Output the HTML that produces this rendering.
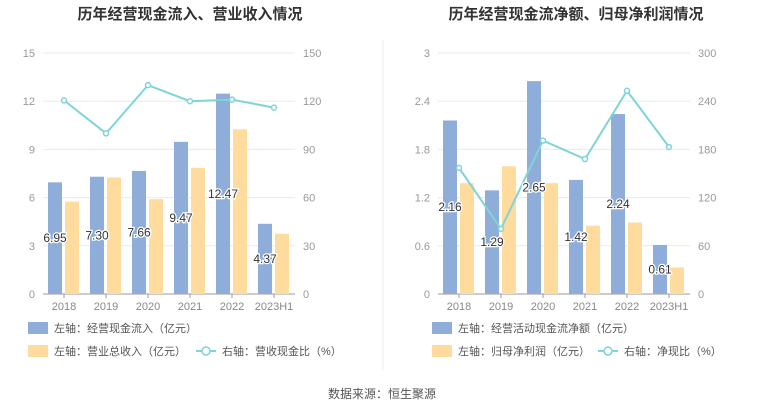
<!DOCTYPE html>
<html><head><meta charset="utf-8"><style>
body{margin:0;background:#fff;font-family:"Liberation Sans","Noto Sans CJK SC",sans-serif;}
svg text{font-family:"Liberation Sans","Noto Sans CJK SC",sans-serif;}
</style></head><body>
<svg width="765" height="413" xmlns="http://www.w3.org/2000/svg">
<rect width="765" height="413" fill="#fff"/>
<line x1="383" y1="40" x2="383" y2="370" stroke="#eee"/>
<text x="190" y="19" text-anchor="middle" font-size="15" font-weight="bold" fill="#333">历年经营现金流入、营业收入情况</text>
<text x="576" y="19" text-anchor="middle" font-size="15" font-weight="bold" fill="#333">历年经营现金流净额、归母净利润情况</text>
<g id="c1"></g><g id="c2"></g>
<g font-size="11" fill="#555">
<rect x="28" y="322" width="20" height="12" fill="#8eadd9"/>
<text x="54" y="332">左轴：经营现金流入（亿元）</text>
<rect x="28" y="345" width="20" height="12" fill="#ffdb9e"/>
<text x="54" y="355">左轴：营业总收入（亿元）</text>
<line x1="196" y1="351" x2="216" y2="351" stroke="#7fd4d8" stroke-width="2"/><circle cx="206" cy="351" r="4" fill="#fff" stroke="#7fd4d8" stroke-width="1.5"/>
<text x="222" y="355">右轴：营收现金比（%）</text>
<rect x="432" y="322" width="20" height="12" fill="#8eadd9"/>
<text x="458" y="332">左轴：经营活动现金流净额（亿元）</text>
<rect x="432" y="345" width="20" height="12" fill="#ffdb9e"/>
<text x="458" y="355">左轴：归母净利润（亿元）</text>
<line x1="598" y1="351" x2="618" y2="351" stroke="#7fd4d8" stroke-width="2"/><circle cx="608" cy="351" r="4" fill="#fff" stroke="#7fd4d8" stroke-width="1.5"/>
<text x="624" y="355">右轴：净现比（%）</text>
</g>
<text x="382" y="398" text-anchor="middle" font-size="12" fill="#555">数据来源：恒生聚源</text>
</svg>
<script>
const categories=["2018","2019","2020","2021","2022","2023H1"];
const inflow=[6.95,7.30,7.66,9.47,12.47,4.37];
const revenue=[5.75,7.25,5.9,7.85,10.25,3.75];
const cashRatio=[120.5,100,130,120,121,116];
const leftTicks1=[0,3,6,9,12,15];
const rightTicks1=[0,30,60,90,120,150];
const netCash=[2.16,1.29,2.65,1.42,2.24,0.61];
const profit=[1.38,1.59,1.38,0.85,0.89,0.33];
const netRatio=[157,81,191,168,253,183];
const leftTicks2=["0","0.6","1.2","1.8","2.4","3"];
const rightTicks2=[0,60,120,180,240,300];
const NS="http://www.w3.org/2000/svg";
function mk(p,t,a){const e=document.createElementNS(NS,t);for(const k in a)e.setAttribute(k,a[k]);p.appendChild(e);return e;}
function draw(gid,x0,x1,lmax,rmax,lt,rt,blue,yellow,line,prefix){
  const g=document.getElementById(gid);const top=53,bot=294;
  const y=v=>bot-v/lmax*(bot-top), yr=v=>bot-v/rmax*(bot-top);
  const bw=(x1-x0)/categories.length, cx=i=>x0+bw*(i+0.5);
  lt.forEach((t,i)=>{const v=parseFloat(t);const yy=y(v);
    if(v>0){const l=mk(g,'line',{x1:x0,x2:x1,y1:yy,y2:yy,stroke:'#e6ebf2'});
    
    }
    const tx=mk(g,'text',{x:x0-8,y:yy+4,'text-anchor':'end','font-size':11,fill:'#999'});tx.textContent=t;
    
    
    const tr=mk(g,'text',{x:x1+8,y:yr(rt[i])+4,'font-size':11,fill:'#999'});tr.textContent=rt[i];
    
    });
  mk(g,'line',{x1:x0,x2:x1,y1:bot,y2:bot,stroke:'#999'});
  categories.forEach((c,i)=>{
    mk(g,'line',{x1:cx(i),x2:cx(i),y1:bot,y2:bot+4,stroke:'#999'});
    const t=mk(g,'text',{x:cx(i),y:bot+16,'text-anchor':'middle','font-size':11,fill:'#888'});t.textContent=c;
    
    
    const b=mk(g,'rect',{x:cx(i)-16,y:y(blue[i]),width:14,height:bot-y(blue[i]),fill:'#8eadd9'});
    
    
    const o=mk(g,'rect',{x:cx(i)+1,y:y(yellow[i]),width:14,height:bot-y(yellow[i]),fill:'#ffdb9e'});
    
    });
  const pl=mk(g,'polyline',{points:line.map((v,i)=>cx(i)+','+yr(v)).join(' '),fill:'none',stroke:'#7fd4d8','stroke-width':2});
  
  
  line.forEach((v,i)=>{const c=mk(g,'circle',{cx:cx(i),cy:yr(v),r:2.5,fill:'#fff',stroke:'#7fd4d8','stroke-width':1.5});
    
    });
  blue.forEach((v,i)=>{const t=mk(g,'text',{x:cx(i)-9,y:(y(v)+bot)/2+4,'text-anchor':'middle','font-size':12,fill:'#333',stroke:'#fff','stroke-width':2.5,'paint-order':'stroke'});
    t.textContent=v.toFixed(2);
    
    });
}
draw('c1',43,295,15,150,leftTicks1.map(String),rightTicks1,inflow,revenue,cashRatio,'left');
draw('c2',438,690,3,300,leftTicks2,rightTicks2,netCash,profit,netRatio,'right');
</script>
</body></html>
